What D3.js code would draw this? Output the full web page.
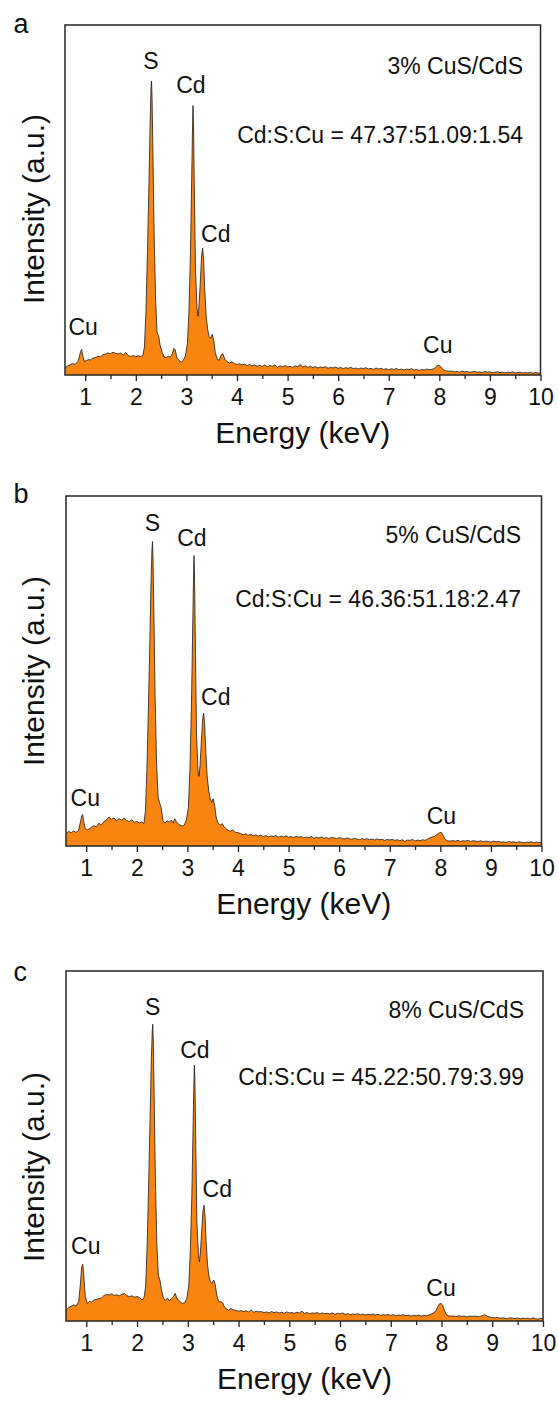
<!DOCTYPE html>
<html>
<head>
<meta charset="utf-8">
<script src="https://cdn.jsdelivr.net/npm/d3@7"></script>
<style>
  body { margin: 0; background: #fff; }
  svg { display: block; }
  text { font-family: "Liberation Sans", Arial, Helvetica, sans-serif; fill: #111; }
</style>
</head>
<body>
<svg id="fig" width="558" height="1401"></svg>
<script>
// EDS channel energies (keV), shared by the three spectra
const energy = [
  0.60,0.65,0.70,0.75,0.80,0.85,0.88,0.91,0.93,0.95,0.98,1.02,1.06,1.10,1.15,1.20,1.25,1.30,1.35,1.40,
  1.45,1.50,1.55,1.60,1.65,1.70,1.75,1.80,1.85,1.90,1.95,2.00,2.05,2.10,2.14,
  2.17,2.20,2.23,2.26,2.28,2.30,2.31,2.32,2.34,2.36,2.39,2.42,2.45,2.48,2.52,2.56,2.60,2.64,2.68,2.72,
  2.75,2.78,2.81,2.85,2.90,2.94,2.98,
  3.02,3.05,3.08,3.10,3.12,3.13,3.14,3.16,3.18,3.21,3.23,3.25,3.28,3.30,3.32,3.34,3.36,3.39,3.42,3.45,
  3.48,3.51,3.54,3.57,3.61,3.65,3.69,3.72,3.76,3.80,3.85,3.90,3.95,4.00,
  4.05,4.10,4.15,4.20,4.25,4.30,4.35,4.40,4.45,4.50,4.55,4.60,4.65,4.70,4.75,4.80,4.85,4.90,4.95,5.00,
  5.05,5.10,5.15,5.20,5.25,5.30,5.35,5.40,5.45,5.50,5.55,5.60,5.65,5.70,5.75,5.80,5.85,5.90,5.95,6.00,
  6.05,6.10,6.15,6.20,6.25,6.30,6.35,6.40,6.45,6.50,6.55,6.60,6.65,6.70,6.75,6.80,6.85,6.90,6.95,7.00,
  7.05,7.10,7.15,7.20,7.25,7.30,7.35,7.40,7.45,7.50,7.55,7.60,7.65,7.70,7.75,7.80,
  7.85,7.89,7.93,7.96,7.99,8.02,8.05,8.09,8.13,8.18,
  8.25,8.30,8.35,8.40,8.45,8.50,8.55,8.60,8.65,8.70,8.75,8.80,8.85,8.90,8.95,9.00,9.05,9.10,9.15,9.20,
  9.25,9.30,9.35,9.40,9.45,9.50,9.55,9.60,9.65,9.70,9.75,9.80,9.85,9.90,9.95,10.00
];

// Counts (a.u.) for 3% CuS/CdS
const intensity3 = [
  2.1,2.6,2.9,3.3,3.0,3.8,5.0,6.8,7.3,5.6,3.9,4.1,4.4,4.3,4.8,5.0,5.3,5.2,5.8,6.0,
  6.3,6.1,6.5,6.2,6.0,6.3,5.7,6.4,5.6,5.3,5.6,5.2,5.5,5.3,5.6,
  8,18,35,55,70,82,84,80,62,42,22,12,11.3,8.5,6.5,5.2,5.0,5.4,5.1,6.0,
  7.6,7.2,5.0,4.2,3.7,4.2,5.5,
  9,18,35,52,70,77,72,50,30,19,16.8,20,28,34,36.3,33,25,17,13,11,
  10.5,11.6,10,6.5,4.5,4.2,5.8,6.1,4.5,3.9,3.4,3.8,3.3,3.0,
  3.2,2.9,3.1,2.7,3.0,2.6,2.9,2.5,2.8,2.4,2.9,2.3,2.7,2.5,2.9,2.2,2.6,2.4,2.7,2.3,
  2.5,2.2,2.6,2.4,3.0,2.3,2.6,2.2,2.5,2.1,2.4,2.0,2.3,2.1,2.4,1.9,2.2,2.0,2.3,1.9,
  2.2,1.8,2.1,1.9,2.2,1.8,2.0,1.7,2.0,1.8,2.1,1.7,1.9,1.6,2.0,1.7,1.9,1.6,1.8,1.5,
  1.8,1.6,1.9,1.5,1.7,1.4,1.7,1.5,1.8,1.4,1.6,1.3,1.6,1.4,1.7,1.5,
  1.6,1.8,2.3,2.7,2.8,2.5,1.9,1.4,1.2,1.1,
  1.1,0.9,1.0,0.8,1.1,0.9,1.0,0.8,0.9,1.0,0.8,0.9,0.7,1.0,0.8,0.9,0.7,0.8,0.9,0.7,
  0.8,0.6,0.8,0.7,0.9,0.6,0.7,0.8,0.6,0.7,0.6,0.8,0.5,0.7,0.6,0.5
];

// Counts (a.u.) for 5% CuS/CdS
const intensity5 = [
  3.5,4.2,3.8,4.3,3.9,4.5,6.5,8.6,9.0,7.0,5.0,4.6,4.9,5.3,5.8,5.5,6.5,6.0,7.0,7.5,
  8.3,7.6,8.0,7.2,7.8,7.4,8.0,7.3,7.0,7.5,6.8,7.0,6.6,6.9,6.4,
  10,22,40,60,75,85,87,82,64,44,24,14,12.3,11,7,6.6,7.2,6.8,7.4,6.6,
  7.8,7.0,6.4,6.0,5.7,6.0,7.5,
  11,22,40,58,76,83,78,55,32,21.5,19.9,23,31,36,38,35,28,20,16,13.5,
  12.5,13.5,11.5,8,6.5,6.0,6.4,5.6,5.0,4.5,4.2,4.6,3.9,3.8,
  3.6,3.2,3.5,3.0,3.4,2.9,3.2,2.8,3.1,2.7,3.0,2.6,2.9,2.7,3.0,2.5,2.8,2.6,2.9,2.5,
  2.7,2.4,2.8,2.5,2.7,2.3,2.6,2.4,2.7,2.2,2.5,2.3,2.6,2.2,2.4,2.1,2.5,2.3,2.1,2.4,
  2.2,2.0,2.3,2.1,1.9,2.2,2.0,1.8,2.1,1.9,2.1,1.8,2.0,1.7,2.0,1.8,1.9,1.6,1.9,1.7,
  1.9,1.6,1.8,1.5,1.8,1.3,1.7,1.6,1.9,1.4,1.7,1.5,1.8,1.6,2.0,2.4,
  2.6,2.8,3.3,3.6,3.8,3.9,3.2,2.0,1.5,1.4,
  1.5,1.4,1.6,1.3,1.5,1.4,1.6,1.3,1.5,1.4,1.3,1.5,1.2,1.4,1.3,1.1,1.4,1.2,1.3,1.1,
  1.2,1.0,1.3,1.1,1.2,1.0,1.2,1.1,0.9,1.1,1.0,1.2,0.9,1.1,1.0,1.0
];

// Counts (a.u.) for 8% CuS/CdS
const intensity8 = [
  3.1,3.8,4.2,4.6,4.3,5.5,10,15.5,16.2,13,7,5.0,5.6,5.4,6.0,6.2,6.4,6.6,7.3,7.6,
  7.4,7.8,7.3,7.5,7.2,7.6,7.9,7.2,7.0,7.2,6.8,7.0,6.7,6.0,6.8,
  10,22,40,60,74,83,84.8,80,62,42,22,13,11.7,9,6.5,6.0,6.5,5.8,6.4,7.0,
  7.9,6.8,6.0,5.5,5.0,5.2,6.5,
  10,20,36,52,68,73.1,69,48,28,19,16.9,20,27,31.5,33.1,30,23,16,12.5,11,
  10.8,11.7,10.5,7.5,5.5,5.5,5.2,4.0,3.5,3.1,3.6,3.2,3.0,2.8,
  3.0,2.7,2.9,2.6,3.1,2.5,2.8,2.6,2.7,2.4,2.6,2.3,2.7,2.4,2.6,2.3,2.5,2.2,2.6,2.3,
  2.4,2.2,2.5,2.3,2.8,2.2,2.4,2.1,2.3,2.2,2.4,2.0,2.3,2.1,2.2,2.0,2.3,1.9,2.2,2.0,
  2.3,1.9,2.1,1.8,2.0,1.9,2.1,1.8,2.0,1.7,1.9,1.8,2.0,1.7,1.9,1.6,1.8,1.7,1.9,1.6,
  1.8,1.5,1.7,1.6,1.8,1.5,1.7,1.4,1.6,1.5,1.7,1.4,1.6,1.5,1.7,2.0,
  2.4,3.0,4.2,4.9,5.0,4.6,3.3,2.0,1.5,1.4,
  1.4,1.3,1.5,1.3,1.4,1.2,1.4,1.3,1.4,1.3,1.3,1.5,1.8,1.4,1.1,1.0,0.9,1.0,0.8,0.9,
  0.8,0.7,0.9,0.8,0.7,0.9,0.6,0.8,0.7,0.8,0.6,0.9,0.7,0.5,0.8,0.6
];

const xTicks = [1, 2, 3, 4, 5, 6, 7, 8, 9, 10];
const xMinorTicks = [1.5, 2.5, 3.5, 4.5, 5.5, 6.5, 7.5, 8.5, 9.5];

const panelLetters = ["a", "b", "c"];
const sampleNames = ["3% CuS/CdS", "5% CuS/CdS", "8% CuS/CdS"];
const ratioTexts = [
  "Cd:S:Cu = 47.37:51.09:1.54",
  "Cd:S:Cu = 46.36:51.18:2.47",
  "Cd:S:Cu = 45.22:50.79:3.99"
];

// Element labels: text, energy of the label centre, label baseline in counts
const peakLabels3 = [
  { text: "S",  e: 2.30, v: 87.3 },
  { text: "Cd", e: 3.09, v: 80.7 },
  { text: "Cd", e: 3.58, v: 38.1 },
  { text: "Cu", e: 0.96, v: 11.3 },
  { text: "Cu", e: 7.97, v: 6.4 }
];
const peakLabels5 = [
  { text: "S",  e: 2.31, v: 89.9 },
  { text: "Cd", e: 3.09, v: 85.6 },
  { text: "Cd", e: 3.56, v: 40.4 },
  { text: "Cu", e: 0.98, v: 11.4 },
  { text: "Cu", e: 8.02, v: 6.4 }
];
const peakLabels8 = [
  { text: "S",  e: 2.31, v: 87.4 },
  { text: "Cd", e: 3.14, v: 75.1 },
  { text: "Cd", e: 3.58, v: 35.5 },
  { text: "Cu", e: 0.99, v: 19.1 },
  { text: "Cu", e: 7.99, v: 7.2 }
];

const spectra = [intensity3, intensity5, intensity8];
const peakLabels = [peakLabels3, peakLabels5, peakLabels8];

// Frame geometry and text placement for each panel
const layouts = [
  { top: 25,  left: 65, right: 540.5, letterY: 33,  nameY: 74,   ratioY: 143,  textRight: 523, yTitleC: 209 },
  { top: 496, left: 66, right: 541.5, letterY: 503, nameY: 543,  ratioY: 607,  textRight: 521, yTitleC: 671 },
  { top: 971, left: 66, right: 543,   letterY: 981, nameY: 1018, ratioY: 1085, textRight: 524, yTitleC: 1167 }
];
const frameHeight = 350;
const fillColor = "#fa8410";

const svg = d3.select("#fig");

layouts.forEach((L, i) => {
  const bottom = L.top + frameHeight;
  const x = d3.scaleLinear().domain([0.6, 10]).range([L.left, L.right]);
  const y = d3.scaleLinear().domain([0, 100]).range([bottom, L.top]);
  const data = energy.map((e, k) => ({ e, v: spectra[i][k] })).filter(d => d.v != null);

  const g = svg.append("g");

  const clipId = "clip" + i;
  svg.append("clipPath").attr("id", clipId)
    .append("rect").attr("x", L.left).attr("y", L.top - 2)
    .attr("width", L.right - L.left).attr("height", frameHeight + 2);

  const plot = g.append("g").attr("clip-path", `url(#${clipId})`);

  plot.append("path")
    .datum(data)
    .attr("fill", fillColor)
    .attr("d", d3.area().x(d => x(d.e)).y0(y(0)).y1(d => y(d.v)));

  plot.append("path")
    .datum(data)
    .attr("fill", "none")
    .attr("stroke", "#1c1c1c")
    .attr("stroke-width", 0.8)
    .attr("stroke-linejoin", "round")
    .attr("d", d3.line().x(d => x(d.e)).y(d => y(d.v)));

  // minor ticks
  const minorAxis = g.append("g")
    .attr("transform", `translate(0,${bottom})`)
    .call(d3.axisBottom(x).tickValues(xMinorTicks).tickSize(4).tickSizeOuter(0).tickFormat(""));
  minorAxis.select(".domain").remove();
  minorAxis.selectAll("line").attr("stroke", "#222").attr("stroke-width", 1.3);

  // major ticks with labels
  const majorAxis = g.append("g")
    .attr("transform", `translate(0,${bottom})`)
    .call(d3.axisBottom(x).tickValues(xTicks).tickSize(6).tickSizeOuter(0).tickPadding(8).tickFormat(d3.format("d")));
  majorAxis.select(".domain").remove();
  majorAxis.selectAll("line").attr("stroke", "#222").attr("stroke-width", 1.3);
  majorAxis.selectAll("text")
    .attr("font-size", 23)
    .attr("font-family", "'Liberation Sans', Arial, sans-serif")
    .attr("fill", "#111");

  // frame
  g.append("rect")
    .attr("x", L.left).attr("y", L.top)
    .attr("width", L.right - L.left).attr("height", frameHeight)
    .attr("fill", "none").attr("stroke", "#262626").attr("stroke-width", 1.5);

  // axis titles
  g.append("text")
    .attr("x", (L.left + L.right) / 2).attr("y", bottom + 68)
    .attr("text-anchor", "middle").attr("font-size", 30)
    .text("Energy (keV)");

  g.append("text")
    .attr("transform", `translate(44,${L.yTitleC}) rotate(-90)`)
    .attr("text-anchor", "middle").attr("font-size", 30)
    .text("Intensity (a.u.)");

  // panel letter
  g.append("text")
    .attr("x", 13.5).attr("y", L.letterY)
    .attr("font-size", 27)
    .text(panelLetters[i]);

  // sample name and composition
  g.append("text")
    .attr("x", L.textRight).attr("y", L.nameY)
    .attr("text-anchor", "end").attr("font-size", 23)
    .text(sampleNames[i]);
  g.append("text")
    .attr("x", L.textRight).attr("y", L.ratioY)
    .attr("text-anchor", "end").attr("font-size", 23)
    .text(ratioTexts[i]);

  // element labels
  g.selectAll("text.peak")
    .data(peakLabels[i])
    .join("text")
    .attr("class", "peak")
    .attr("x", d => x(d.e)).attr("y", d => y(d.v))
    .attr("text-anchor", "middle").attr("font-size", 23)
    .text(d => d.text);
});
</script>
</body>
</html>
